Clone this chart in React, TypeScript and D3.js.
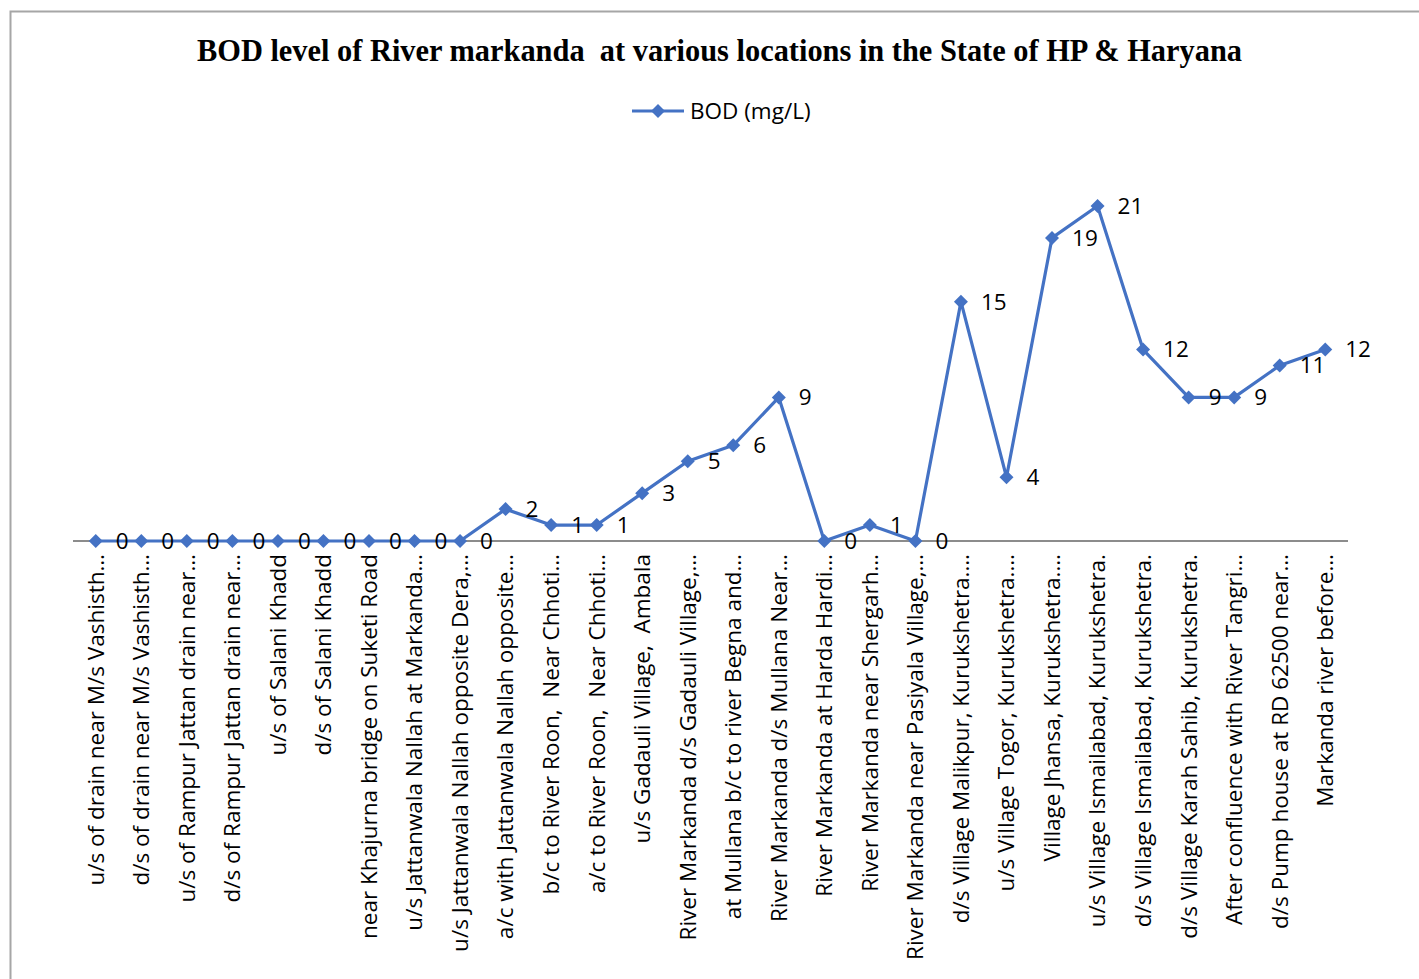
import React from "react";
import * as d3 from "d3";

const categories: string[] = [
  "u/s of drain near M/s Vashisth…",
  "d/s of drain near M/s Vashisth…",
  "u/s of Rampur Jattan drain near…",
  "d/s of Rampur Jattan drain near…",
  "u/s of Salani Khadd",
  "d/s of Salani Khadd",
  "near Khajurna bridge on Suketi Road",
  "u/s Jattanwala Nallah at Markanda…",
  "u/s Jattanwala Nallah opposite Dera,…",
  "a/c with Jattanwala Nallah opposite…",
  "b/c to River Roon,  Near Chhoti…",
  "a/c to River Roon,  Near Chhoti…",
  "u/s Gadauli Village,  Ambala",
  "River Markanda d/s Gadauli Village,…",
  "at Mullana b/c to river Begna and…",
  "River Markanda d/s Mullana Near…",
  "River Markanda at Harda Hardi…",
  "River Markanda near Shergarh…",
  "River Markanda near Pasiyala Village,…",
  "d/s Village Malikpur, Kurukshetra.…",
  "u/s Village Togor, Kurukshetra.…",
  "Village Jhansa, Kurukshetra.…",
  "u/s Village Ismailabad, Kurukshetra.",
  "d/s Village Ismailabad, Kurukshetra.",
  "d/s Village Karah Sahib, Kurukshetra.",
  "After confluence with River Tangri…",
  "d/s Pump house at RD 62500 near…",
  "Markanda river before…",
];

const bodValues: number[] = [
  0, 0, 0, 0, 0, 0, 0, 0, 0, 2, 1, 1, 3, 5, 6, 9, 0, 1, 0, 15, 4, 19, 21, 12, 9, 9, 11, 12,
];

const seriesName = "BOD (mg/L)";
const titleText = "BOD level of River markanda  at various locations in the State of HP & Haryana";

const W = 1419;
const H = 979;
const COLOR = "#4472C4";
const LABEL_FONT = "'Open Sans', 'Liberation Sans', sans-serif";
const FS = 22.5;

export default function App() {
  const x = d3
    .scalePoint<string>()
    .domain(categories)
    .range([73, 1348])
    .padding(0.5);
  const y = d3.scaleLinear().domain([0, 25]).range([541, 541 - 25 * 15.952]);

  const pts = categories.map((c, i) => ({ c, v: bodValues[i], px: x(c) as number, py: y(bodValues[i]) }));
  const line = d3
    .line<{ px: number; py: number }>()
    .x((d) => d.px)
    .y((d) => d.py);
  const diamond = (cx: number, cy: number, r = 7) =>
    `M${cx},${cy - r}L${cx + r},${cy}L${cx},${cy + r}L${cx - r},${cy}Z`;

  return (
    <svg
      width={W}
      height={H}
      style={{ position: "absolute", left: 0, top: 0, background: "#fff" }}
    >
      <rect x={0} y={0} width={W} height={H} fill="#fff" />
      {/* frame */}
      <path d={`M10.5,${H}V11.5H${W}`} fill="none" stroke="#a6a6a6" strokeWidth={2} />

      {/* title */}
      <text
        x={719.5}
        y={61}
        textAnchor="middle"
        fontFamily="'Liberation Serif', 'DejaVu Serif', serif"
        fontWeight="bold"
        fontSize={31}
        textLength={1045}
        lengthAdjust="spacingAndGlyphs"
        fill="#000"
        style={{ whiteSpace: "pre" }}
      >
        {titleText}
      </text>

      {/* legend */}
      <line x1={632} x2={684} y1={111} y2={111} stroke={COLOR} strokeWidth={3} />
      <path d={diamond(658, 111)} fill={COLOR} />
      <text x={690} y={111} dy="0.35em" fontFamily={LABEL_FONT} fontSize={FS} fill="#000">
        {seriesName}
      </text>

      {/* axis line */}
      <line x1={73} x2={1348} y1={y(0)} y2={y(0)} stroke="#8c8c8c" strokeWidth={2} />

      {/* category labels */}
      {pts.map((p) => (
        <text
          key={"c" + p.c}
          transform={`translate(${p.px},554) rotate(-90)`}
          textAnchor="end"
          dy="0.35em"
          fontFamily={LABEL_FONT}
          fontSize={FS}
          fill="#000"
          style={{ whiteSpace: "pre" }}
        >
          {p.c}
        </text>
      ))}

      {/* series line */}
      <path d={line(pts) || ""} fill="none" stroke={COLOR} strokeWidth={3.2} strokeLinejoin="round" />
      {pts.map((p, i) => (
        <path key={"m" + i} d={diamond(p.px, p.py)} fill={COLOR} />
      ))}

      {/* data labels */}
      {pts.map((p, i) => (
        <text
          key={"d" + i}
          x={p.px + 20}
          y={p.py}
          dy="0.35em"
          fontFamily={LABEL_FONT}
          fontSize={FS}
          fill="#000"
        >
          {p.v}
        </text>
      ))}
    </svg>
  );
}
